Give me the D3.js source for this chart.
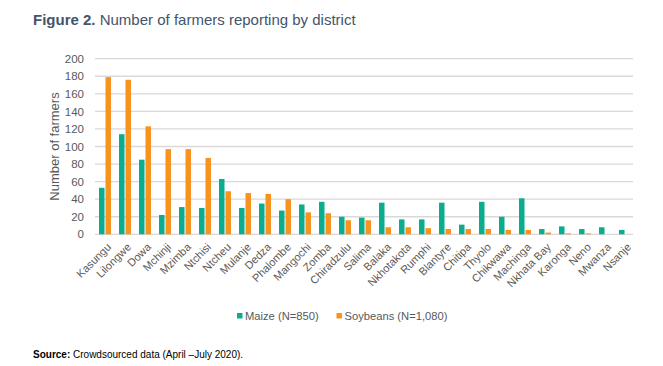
<!DOCTYPE html>
<html>
<head>
<meta charset="utf-8">
<script src="https://cdn.jsdelivr.net/npm/d3@7"></script>
<style>
  body { margin: 0; background: #fff; }
  text { font-family: "Liberation Sans", Arial, sans-serif; }
</style>
</head>
<body>
<div id="chart"></div>
<script>
var districts = ['Kasungu', 'Lilongwe', 'Dowa', 'Mchinji', 'Mzimba', 'Ntchisi', 'Ntcheu',
  'Mulanje', 'Dedza', 'Phalombe', 'Mangochi', 'Zomba', 'Chiradzulu', 'Salima', 'Balaka',
  'Nkhotakota', 'Rumphi', 'Blantyre', 'Chitipa', 'Thyolo', 'Chikwawa', 'Machinga',
  'Nkhata Bay', 'Karonga', 'Neno', 'Mwanza', 'Nsanje']
var maize = [53, 114, 85, 22, 31, 30, 63, 30, 35, 27, 34, 37, 20, 19, 36, 17, 17, 36, 11,
  37, 20, 41, 6, 9, 6, 8, 5]
var soybeans = [179, 176, 123, 97, 97, 87, 49, 47, 46, 40, 25, 24, 16, 16, 8, 8, 7, 6, 6,
  6, 5, 5, 2, 1, 1, 0, 0]
var seriesNames = ['Maize (N=850)', 'Soybeans (N=1,080)']
var yTicks = [0, 20, 40, 60, 80, 100, 120, 140, 160, 180, 200]

var width = 663
var height = 366
var TEAL = '#0aae8f'
var ORANGE = '#f7931e'
var GREY = '#595959'

var svg = d3.select('#chart').append('svg')
  .attr('width', width)
  .attr('height', height)

// title
var title = svg.append('text')
  .attr('x', 33)
  .attr('y', 25)
  .attr('fill', '#44546a')
  .style('font-size', '15px')
title.append('tspan').style('font-weight', 'bold').text('Figure 2.')
title.append('tspan').text(' Number of farmers reporting by district')

var x = d3.scaleBand().domain(districts).range([95, 635])
var xs = d3.scaleBand().domain(['maize', 'soy']).range([4, 16]).paddingInner(0.15)
var y = d3.scaleLinear().domain([0, 200]).range([234.3, 58.7])

// gridlines
svg.append('g')
  .selectAll('line')
  .data(yTicks)
  .enter()
  .append('line')
  .attr('x1', 95)
  .attr('x2', 633)
  .attr('y1', function(d) { return y(d) })
  .attr('y2', function(d) { return y(d) })
  .attr('stroke', '#d9d9d9')
  .attr('stroke-width', 1.3)

// y axis labels
var yAxis = svg.append('g')
  .attr('transform', 'translate(95,0)')
  .call(d3.axisLeft(y).tickValues(yTicks).tickSize(0).tickPadding(11))
yAxis.select('.domain').remove()
yAxis.selectAll('text')
  .attr('fill', GREY)
  .style('font-size', '11.5px')
  .style('font-family', '"Liberation Sans", Arial, sans-serif')

svg.append('text')
  .attr('transform', 'translate(59,146.5) rotate(-90)')
  .attr('text-anchor', 'middle')
  .attr('fill', GREY)
  .style('font-size', '13px')
  .text('Number of farmers')

// bars
var groups = svg.append('g')
  .selectAll('g')
  .data(districts)
  .enter()
  .append('g')
  .attr('transform', function(d) { return 'translate(' + x(d) + ',0)' })

groups.append('rect')
  .attr('x', xs('maize'))
  .attr('width', xs.bandwidth())
  .attr('y', function(d, i) { return y(maize[i]) })
  .attr('height', function(d, i) { return y(0) - y(maize[i]) })
  .attr('fill', TEAL)

groups.append('rect')
  .attr('x', xs('soy'))
  .attr('width', xs.bandwidth())
  .attr('y', function(d, i) { return y(soybeans[i]) })
  .attr('height', function(d, i) { return y(0) - y(soybeans[i]) })
  .attr('fill', ORANGE)

// x labels
svg.append('g')
  .selectAll('text')
  .data(districts)
  .enter()
  .append('text')
  .attr('text-anchor', 'end')
  .attr('transform', function(d) {
    return 'translate(' + (x(d) + x.bandwidth() / 2 + 4) + ',245) rotate(-45)'
  })
  .attr('dy', '0.35em')
  .attr('fill', GREY)
  .style('font-size', '11px')
  .text(function(d) { return d })

// legend
var legend = svg.append('g')
  .selectAll('g')
  .data(seriesNames)
  .enter()
  .append('g')
  .attr('transform', function(d, i) { return 'translate(' + (i ? 336.5 : 237) + ',316)' })
legend.append('rect')
  .attr('x', 0)
  .attr('y', -3)
  .attr('width', 5.5)
  .attr('height', 5.5)
  .attr('fill', function(d, i) { return i ? ORANGE : TEAL })
legend.append('text')
  .attr('x', 8)
  .attr('dy', '0.35em')
  .attr('fill', GREY)
  .style('font-size', '11.2px')
  .text(function(d) { return d })

// source
var source = svg.append('text')
  .attr('x', 33)
  .attr('y', 358)
  .attr('fill', '#000')
  .style('font-size', '10px')
source.append('tspan').style('font-weight', 'bold').text('Source:')
source.append('tspan').text(' Crowdsourced data (April \u2013July 2020).')
</script>
</body>
</html>
